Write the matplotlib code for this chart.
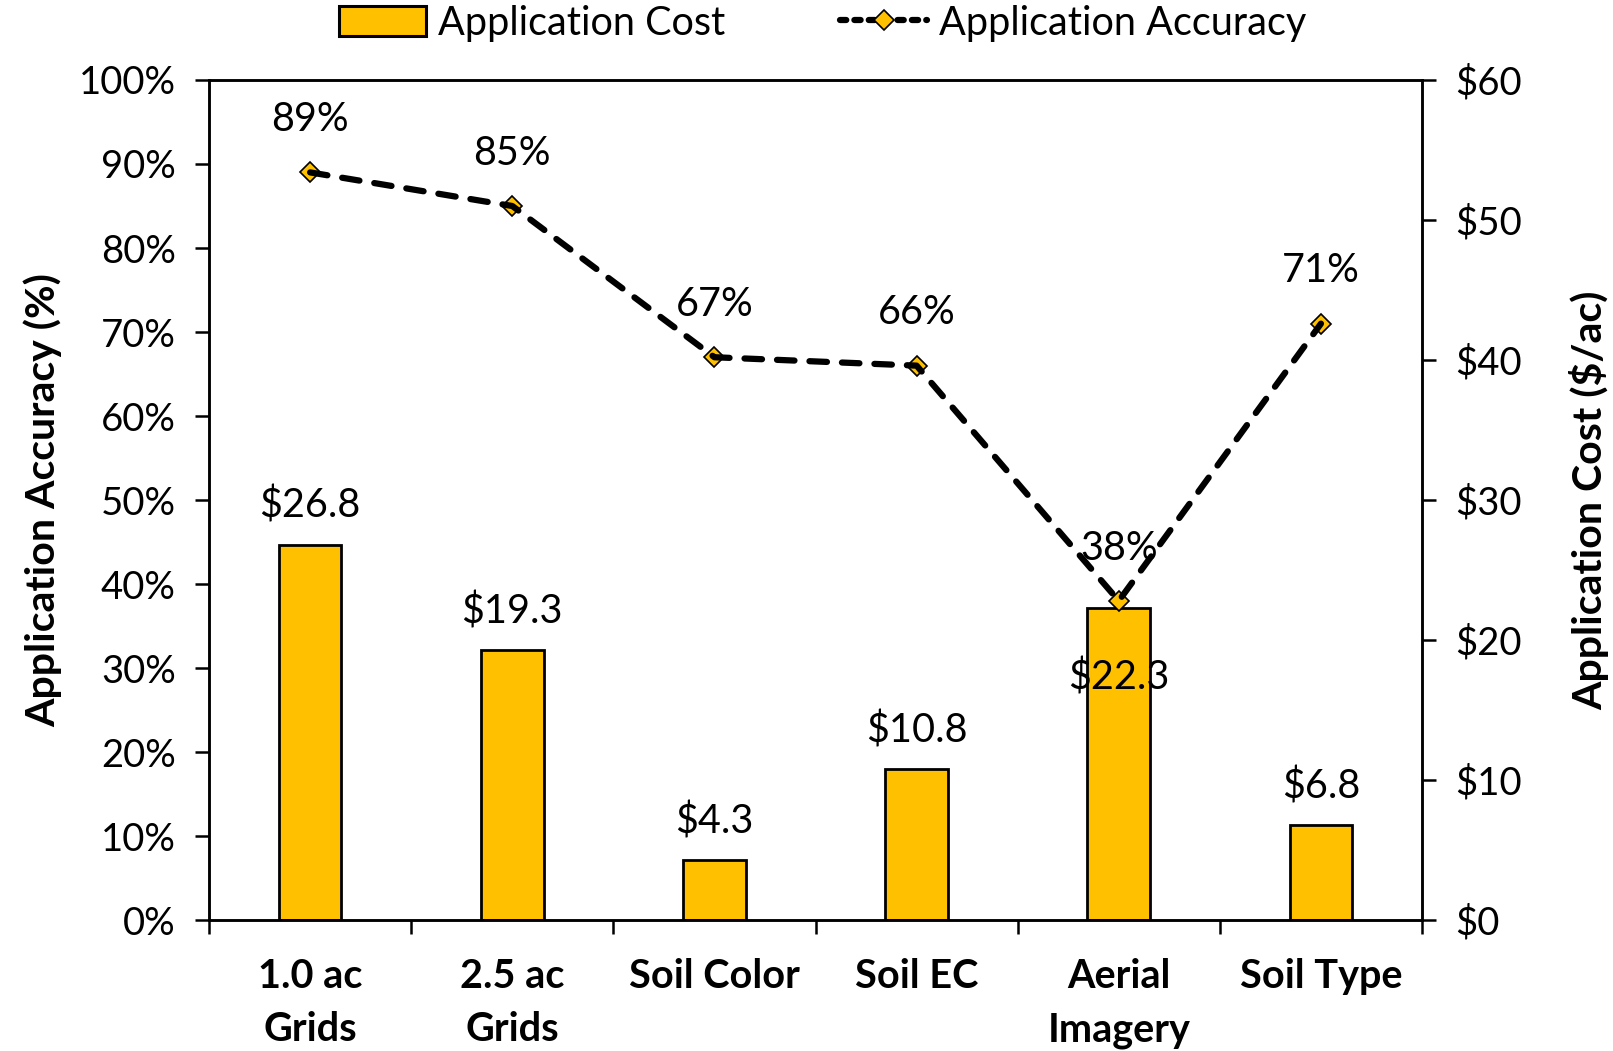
import matplotlib
matplotlib.use('agg')
import matplotlib.pyplot as plt
from matplotlib.lines import Line2D
from matplotlib.patches import Patch
from matplotlib.ticker import FuncFormatter, MultipleLocator

plt.rcParams['font.family'] = ['Lato', 'DejaVu Sans']

categories = ['1.0 ac\nGrids', '2.5 ac\nGrids', 'Soil Color', 'Soil EC', 'Aerial\nImagery', 'Soil Type']
cost = [26.8, 19.3, 4.3, 10.8, 22.3, 6.8]
accuracy = [89, 85, 67, 66, 38, 71]

gold = '#FFC000'
fs_tick = 27.5
fs_lab = 28.5
fs_title = 29.5

fig = plt.figure(figsize=(16.13, 10.51), dpi=100)
ax = fig.add_axes([0.1296, 0.1245, 0.7520, 0.7994])
ax2 = ax.twinx()
x = list(range(len(categories)))

# bars on the cost axis (right side)
ax.bar(x, cost, width=0.31, color=gold, edgecolor='black', linewidth=2, zorder=2)
ax.set_ylim(0, 60)
ax.set_xlim(-0.5, 5.5)
ax.yaxis.tick_right()
ax.yaxis.set_label_position('right')
ax.yaxis.set_major_locator(MultipleLocator(10))
ax.yaxis.set_major_formatter(FuncFormatter(lambda v, p: '$%d' % v))
ax.set_ylabel('Application Cost ($/ac)', fontsize=fs_title, fontweight='bold', labelpad=34)

for i, c in enumerate(cost):
    off = 28
    if i == 4:
        off = -50
    ax.annotate('$%.1f' % c, (i, c), xytext=(0, off), textcoords='offset points',
                ha='center', va='center', fontsize=fs_lab, zorder=5)

# accuracy line on the left axis
ax2.plot(x, accuracy, color='black', lw=4.5, ls=(0, (2.8, 2.4)), dash_capstyle='round',
         zorder=3)
ax2.plot(x, accuracy, ls='none', marker='D', ms=10, mfc=gold, mec='black', mew=1.2, zorder=2)
ax2.set_ylim(0, 100)
ax2.yaxis.tick_left()
ax2.yaxis.set_label_position('left')
ax2.yaxis.set_major_locator(MultipleLocator(10))
ax2.yaxis.set_major_formatter(FuncFormatter(lambda v, p: '%d%%' % v))
ax2.set_ylabel('Application Accuracy (%)', fontsize=fs_title, fontweight='bold', labelpad=12)
for i, a in enumerate(accuracy):
    ax2.annotate('%d%%' % a, (i, a), xytext=(0, 38), textcoords='offset points',
                 ha='center', va='center', fontsize=fs_lab)

ax.set_xticks(x)
ax.set_xticklabels(categories, fontsize=fs_lab, fontweight='bold', linespacing=1.55)
ax.set_xticks([i - 0.5 for i in range(len(categories) + 1)], minor=True)
ax.tick_params(axis='x', which='major', length=0, pad=27)
ax.tick_params(axis='x', which='minor', length=10, width=1.8, direction='out')

for a in (ax, ax2):
    for s in a.spines.values():
        s.set_linewidth(1.8)
    a.tick_params(axis='y', length=10, width=1.8, labelsize=fs_tick, pad=14)

handles = [Patch(facecolor=gold, edgecolor='black', linewidth=2.2),
           Line2D([], [], color='black', lw=4.5, ls=(0, (1.0, 1.3)), dash_capstyle='round',
                  marker='D', ms=10, mfc=gold, mec='black', mew=1.2)]
fig.legend(handles, ['Application Cost', 'Application Accuracy'], loc='center',
           bbox_to_anchor=(0.51, 0.978), ncol=2, frameon=False, fontsize=fs_lab,
           handlelength=2.2, handleheight=0.8, columnspacing=2.9, handletextpad=0.3)

fig.savefig('out.png', dpi=100)
